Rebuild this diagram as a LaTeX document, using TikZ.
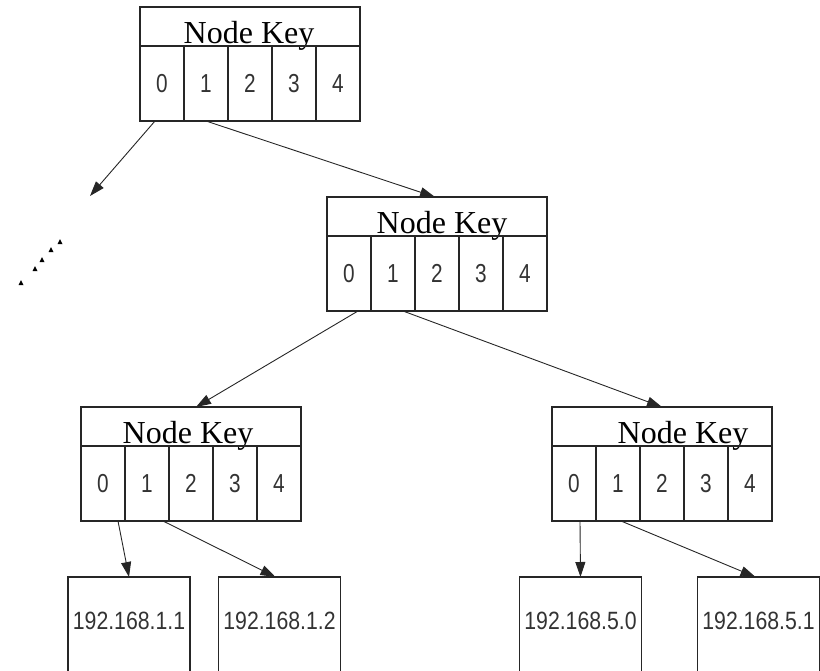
\documentclass[tikz,border=0pt]{standalone}
\usepackage{fontspec}
\setmainfont{Liberation Serif}
\newfontfamily\digitfont[FakeStretch=0.8]{Liberation Sans}
\newfontfamily\ipfont[FakeStretch=0.85]{Liberation Sans}
\usetikzlibrary{arrows.meta,calc}
\newcommand\keynode[4]{%
  \node[hdr] (#1) at (#2,#3) {};
  \node[keytext] (#1t) at ([xshift=#4pt, yshift=3pt]#1.south) {Node Key};
  \foreach \i in {0,...,4} \node[cellbox] (#1c\i) at ($(#2,#3)+(\i*44,39)$) {\i};
}
\begin{document}
\begin{tikzpicture}[x=1pt,y=-1pt,
  box/.style={draw=black!85, line width=1.4pt, inner sep=0pt, outer sep=0pt},
  hdr/.style={box, minimum width=220pt, minimum height=39pt, anchor=north west},
  cellbox/.style={box, minimum width=44pt, minimum height=75pt, anchor=north west,
    text=black!80, font=\digitfont\fontsize{26}{26}\selectfont},
  keytext/.style={anchor=base, inner sep=0pt, font=\fontsize{32}{32}\selectfont},
  leaf/.style={box, anchor=north, minimum width=122pt, text height=52pt, text depth=60pt,
    text=black!80, font=\ipfont\fontsize{25}{25}\selectfont},
  link/.style={draw=black!85, line width=0.9pt, -{Triangle[length=15pt,width=10pt]}},
]
\useasboundingbox (0,0) rectangle (820,670);
\clip (0,0) rectangle (820,670);

\keynode{T}{140}{7}{-1}
\keynode{M}{327}{197}{5}
\keynode{L}{81}{407}{-3}
\keynode{R}{552}{407}{21}

\node[leaf] (L1) at (129,577) {192.168.1.1};
\node[leaf] (L2) at (279.5,577) {192.168.1.2};
\node[leaf] (R1) at (580.5,577) {192.168.5.0};
\node[leaf] (R2) at (758.5,577) {192.168.5.1};

\coordinate (lost) at (90,196);
\draw[link] ([xshift=-7pt]Tc0.south) -- (lost);
\draw[link] (Tc1.south) -- ([xshift=-2pt]M.north);
\draw[link] ([xshift=9pt]Mc0.south) -- ([xshift=5pt]L.north);
\draw[link] ([xshift=10pt]Mc1.south) -- (R.north);
\draw[link] ([xshift=15pt]Lc0.south) -- (L1.north);
\draw[link] ([xshift=16pt]Lc1.south) -- ([xshift=-4pt]L2.north);
\draw[link] ([xshift=6pt]Rc0.south) -- (R1.north);
\draw[link] ([xshift=3pt]Rc1.south) -- ([xshift=-3pt]R2.north);

\foreach \p in {(60,242),(51,250),(42,260),(35,269),(21,283)}
  \fill[black] \p ++(-2.5,2) -- ++(5,0) -- ++(-2.5,-5) -- cycle;
\end{tikzpicture}
\end{document}
